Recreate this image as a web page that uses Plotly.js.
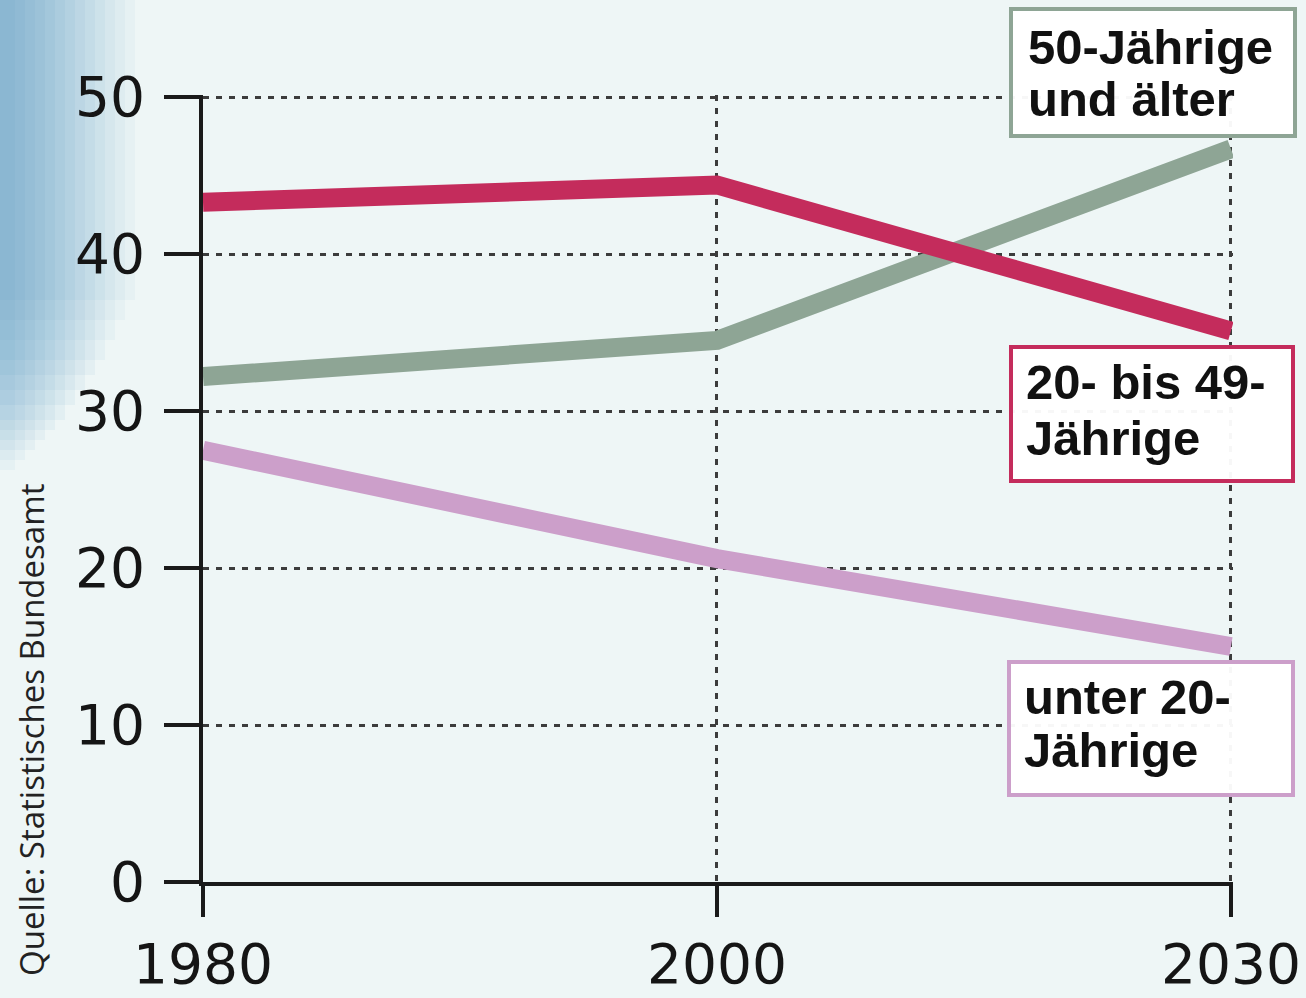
<!DOCTYPE html>
<html>
<head>
<meta charset="utf-8">
<script src="https://cdn.plot.ly/plotly-3.0.1.min.js"></script>
<style>html,body{margin:0;padding:0;background:#eef6f6;}</style>
</head>
<body>
<div id="chart" style="width:1306px;height:998px;"></div>
<script>
// Data (share of population in %)
const years = ['1980', '2000', '2030'];
const age20to49 = [43.3, 44.4, 35.1];
const age50plus = [32.2, 34.5, 46.7];
const under20   = [27.5, 20.6, 15.0];
const yTicks = [0, 10, 20, 30, 40, 50];

const labels50 = ['50-Jährige', 'und älter'];
const labels20to49 = ['20- bis 49-', 'Jährige'];
const labelsUnder20 = ['unter 20-', 'Jährige'];
const sourceText = 'Quelle: Statistisches Bundesamt';

const cRed = '#c42c5c', cGreen = '#8ea595', cPink = '#cc9fca';

function line(y, color) {
  return {x: years, y: y, type: 'scatter', mode: 'lines',
          line: {color: color, width: 19}, hoverinfo: 'skip', showlegend: false};
}

const traces = [line(under20, cPink), line(age50plus, cGreen), line(age20to49, cRed)];

// pixel -> paper helpers (plot area: x 203..1233, y 95..882)
const px = v => (v - 203) / 1030;
const py = v => (882 - v) / 787;

const boxFont = {family: 'Liberation Sans, Arial, sans-serif', size: 49, color: '#111', weight: 'bold'};

function box(x0, x1, y0, y1, color) {
  return {type: 'rect', xref: 'paper', yref: 'paper', x0: px(x0), x1: px(x1), y0: py(y1), y1: py(y0),
          fillcolor: 'rgba(255,255,255,0.96)', line: {color: color, width: 4}, layer: 'above'};
}
function txt(t, x, y) {
  return {text: '<b>' + t + '</b>', xref: 'paper', yref: 'paper', x: px(x), y: py(y),
          xanchor: 'left', yanchor: 'middle', showarrow: false, font: boxFont};
}

// soft blue photo background at the upper left (decoration only)
const shapes = [];
const bgSteps = [[135, 300, 0.035], [125, 320, 0.035], [115, 340, 0.04], [105, 360, 0.045], [95, 375, 0.05],
                 [85, 390, 0.05], [75, 405, 0.055], [65, 420, 0.055], [55, 430, 0.055], [45, 440, 0.05],
                 [35, 450, 0.05], [25, 460, 0.045], [15, 470, 0.04]];
bgSteps.forEach(s => shapes.push({type: 'rect', xref: 'paper', yref: 'paper', x0: px(0), x1: px(s[0]),
  y0: py(s[1]), y1: py(0), fillcolor: 'rgba(30,120,175,' + s[2] + ')', line: {width: 0}, layer: 'below'}));
shapes.push(box(1011, 1295, 9, 136, cGreen));
shapes.push(box(1011, 1293, 347, 481, cRed));
shapes.push(box(1009, 1293, 662, 795, cPink));

const annotations = [
  txt(labels50[0], 1026, 47), txt(labels50[1], 1026, 99),
  txt(labels20to49[0], 1024, 382), txt(labels20to49[1], 1024, 438),
  txt(labelsUnder20[0], 1022, 697), txt(labelsUnder20[1], 1022, 750),
  {text: sourceText, xref: 'paper', yref: 'paper', x: px(31), y: py(730), textangle: -90,
   showarrow: false, xanchor: 'center', yanchor: 'middle',
   font: {family: 'Open Sans, Noto Sans, sans-serif', size: 33, color: '#222'}}
];

const tickFont = {family: 'DejaVu Sans, sans-serif', size: 55, color: '#151515'};

const layout = {
  width: 1306, height: 998,
  margin: {l: 203, r: 73, t: 95, b: 116},
  paper_bgcolor: '#eef6f6', plot_bgcolor: 'rgba(0,0,0,0)',
  showlegend: false,
  xaxis: {type: 'category', categoryorder: 'array', categoryarray: years, range: [0, 2.004],
          showline: true, linecolor: '#1a1a1a', linewidth: 4,
          ticks: 'outside', ticklen: 31, tickwidth: 4, tickcolor: '#1a1a1a',
          showgrid: true, gridcolor: '#3c3c3c', gridwidth: 3, griddash: '6px,7px',
          tickfont: tickFont, ticklabelstandoff: 0, zeroline: false, fixedrange: true},
  yaxis: {range: [0, 50.13], tickvals: yTicks, ticktext: yTicks.map(String),
          showline: true, linecolor: '#1a1a1a', linewidth: 4,
          ticks: 'outside', ticklen: 35, tickwidth: 4, tickcolor: '#1a1a1a',
          showgrid: true, gridcolor: '#3c3c3c', gridwidth: 3, griddash: '6px,7px',
          tickfont: tickFont, ticklabelstandoff: 8, zeroline: false, fixedrange: true},
  shapes: shapes,
  annotations: annotations
};

Plotly.newPlot('chart', traces, layout, {displayModeBar: false, staticPlot: true});
</script>
</body>
</html>
